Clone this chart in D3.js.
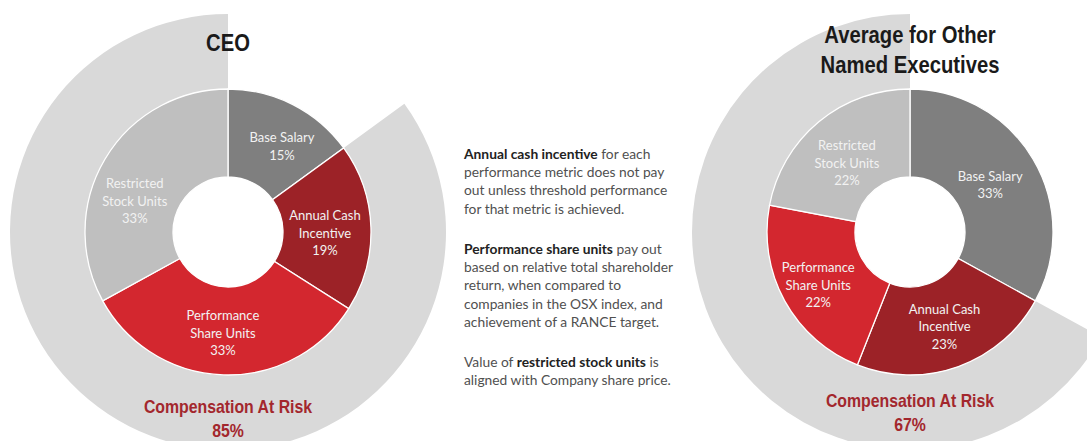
<!DOCTYPE html>
<html>
<head>
<meta charset="utf-8">
<script src="https://cdn.jsdelivr.net/npm/d3@7"></script>
<style>
  html, body { margin: 0; padding: 0; background: #fff; }
  svg { display: block; }
</style>
</head>
<body>
<svg id="chart" width="1087" height="441"></svg>
<script>
// data
var categories = ["Base Salary", "Annual Cash Incentive", "Performance Share Units", "Restricted Stock Units"];
var labelLines = [["Base Salary"], ["Annual Cash", "Incentive"], ["Performance", "Share Units"], ["Restricted", "Stock Units"]];
var ceoValues = [15, 19, 33, 33];
var neoValues = [33, 23, 22, 22];
var atRiskValues = [85, 67];
var chartTitles = [["CEO"], ["Average for Other", "Named Executives"]];
var sliceColors = ["#7f7f7f", "#9c2227", "#d3272f", "#bfbfbf"];

var notes = [
  [[["Annual cash incentive", true], [" for each", false]],
   [["performance metric does not pay", false]],
   [["out unless threshold performance", false]],
   [["for that metric is achieved.", false]]],
  [[["Performance share units", true], [" pay out", false]],
   [["based on relative total shareholder", false]],
   [["return, when compared to", false]],
   [["companies in the OSX index, and", false]],
   [["achievement of a RANCE target.", false]]],
  [[["Value of ", false], ["restricted stock units", true], [" is", false]],
   [["aligned with Company share price.", false]]]
];

var svg = d3.select("#chart");

var labelFont = "Lato, 'Open Sans', sans-serif";
var titleFont = "'Liberation Sans', Arial, sans-serif";

var innerR = 55, midR = 143, outerR = 218;

// small label nudges (excel style placement), px
var charts = [
  { cx: 228, cy: 232, values: ceoValues, risk: atRiskValues[0], titles: chartTitles[0], titleY: 51, capY: 413,
    nudge: [[9, 3], [-2, 5], [-2, 3], [-8, 20]] },
  { cx: 910, cy: 232, values: neoValues, risk: atRiskValues[1], titles: chartTitles[1], titleY: 43, capY: 407,
    nudge: [[-5, 4], [1, 2], [-5, 6], [0, 8]] }
];

var pie = d3.pie().sort(null).value(function(d) { return d; });
var arc = d3.arc().innerRadius(innerR).outerRadius(midR);
var ringArc = d3.arc().innerRadius(midR).outerRadius(outerR);

charts.forEach(function(c) {
  var g = svg.append("g").attr("transform", "translate(" + c.cx + "," + c.cy + ")");

  // outer ring = compensation at risk (everything after base salary)
  var ring = pie([100 - c.risk, c.risk]);
  g.append("path")
    .attr("d", ringArc(ring[1]))
    .attr("fill", "#d9d9d9");

  var slices = pie(c.values);
  g.selectAll("path.slice")
    .data(slices)
    .enter()
    .append("path")
    .attr("class", "slice")
    .attr("d", arc)
    .attr("fill", function(d, i) { return sliceColors[i]; })
    .attr("stroke", "#fff")
    .attr("stroke-width", 1.3);

  var lh = 17.5;
  g.selectAll("text.lbl")
    .data(slices)
    .enter()
    .append("text")
    .attr("class", "lbl")
    .attr("text-anchor", "middle")
    .attr("font-family", labelFont)
    .attr("font-size", "13px")
    .attr("fill", "#f2f2f2")
    .each(function(d, i) {
      var lines = labelLines[i].concat([d.data + "%"]);
      var pos = arc.centroid(d);
      var x = pos[0] + c.nudge[i][0];
      var y0 = pos[1] + c.nudge[i][1] - (lines.length - 1) * lh / 2 + 4;
      var t = d3.select(this);
      lines.forEach(function(s, k) {
        t.append("tspan").attr("x", x).attr("y", y0 + k * lh).text(s);
      });
    });

  // chart title (narrow bold look)
  c.titles.forEach(function(s, k) {
    svg.append("text")
      .attr("transform", "translate(" + c.cx + "," + (c.titleY + k * 30) + ") scale(0.88,1)")
      .attr("text-anchor", "middle")
      .attr("font-family", titleFont)
      .attr("font-weight", "bold")
      .attr("font-size", "23px")
      .attr("fill", "#1a1a1a")
      .text(s);
  });

  // at risk caption
  [["Compensation At Risk", 0], [c.risk + "%", 24]].forEach(function(p) {
    svg.append("text")
      .attr("transform", "translate(" + c.cx + "," + (c.capY + p[1]) + ") scale(0.88,1)")
      .attr("text-anchor", "middle")
      .attr("font-family", titleFont)
      .attr("font-weight", "bold")
      .attr("font-size", "18px")
      .attr("fill", "#a3272d")
      .text(p[0]);
  });
});

// notes in the middle
var noteStarts = [159, 254, 367];
notes.forEach(function(para, p) {
  para.forEach(function(line, k) {
    var t = svg.append("text")
      .attr("x", 464)
      .attr("y", noteStarts[p] + k * 18.2)
      .attr("font-family", labelFont)
      .attr("font-size", "13.8px")
      .attr("fill", "#505050");
    line.forEach(function(part) {
      t.append("tspan")
        .attr("font-weight", part[1] ? "bold" : "normal")
        .attr("fill", part[1] ? "#222" : "#505050")
        .text(part[0]);
    });
  });
});
</script>
</body>
</html>
